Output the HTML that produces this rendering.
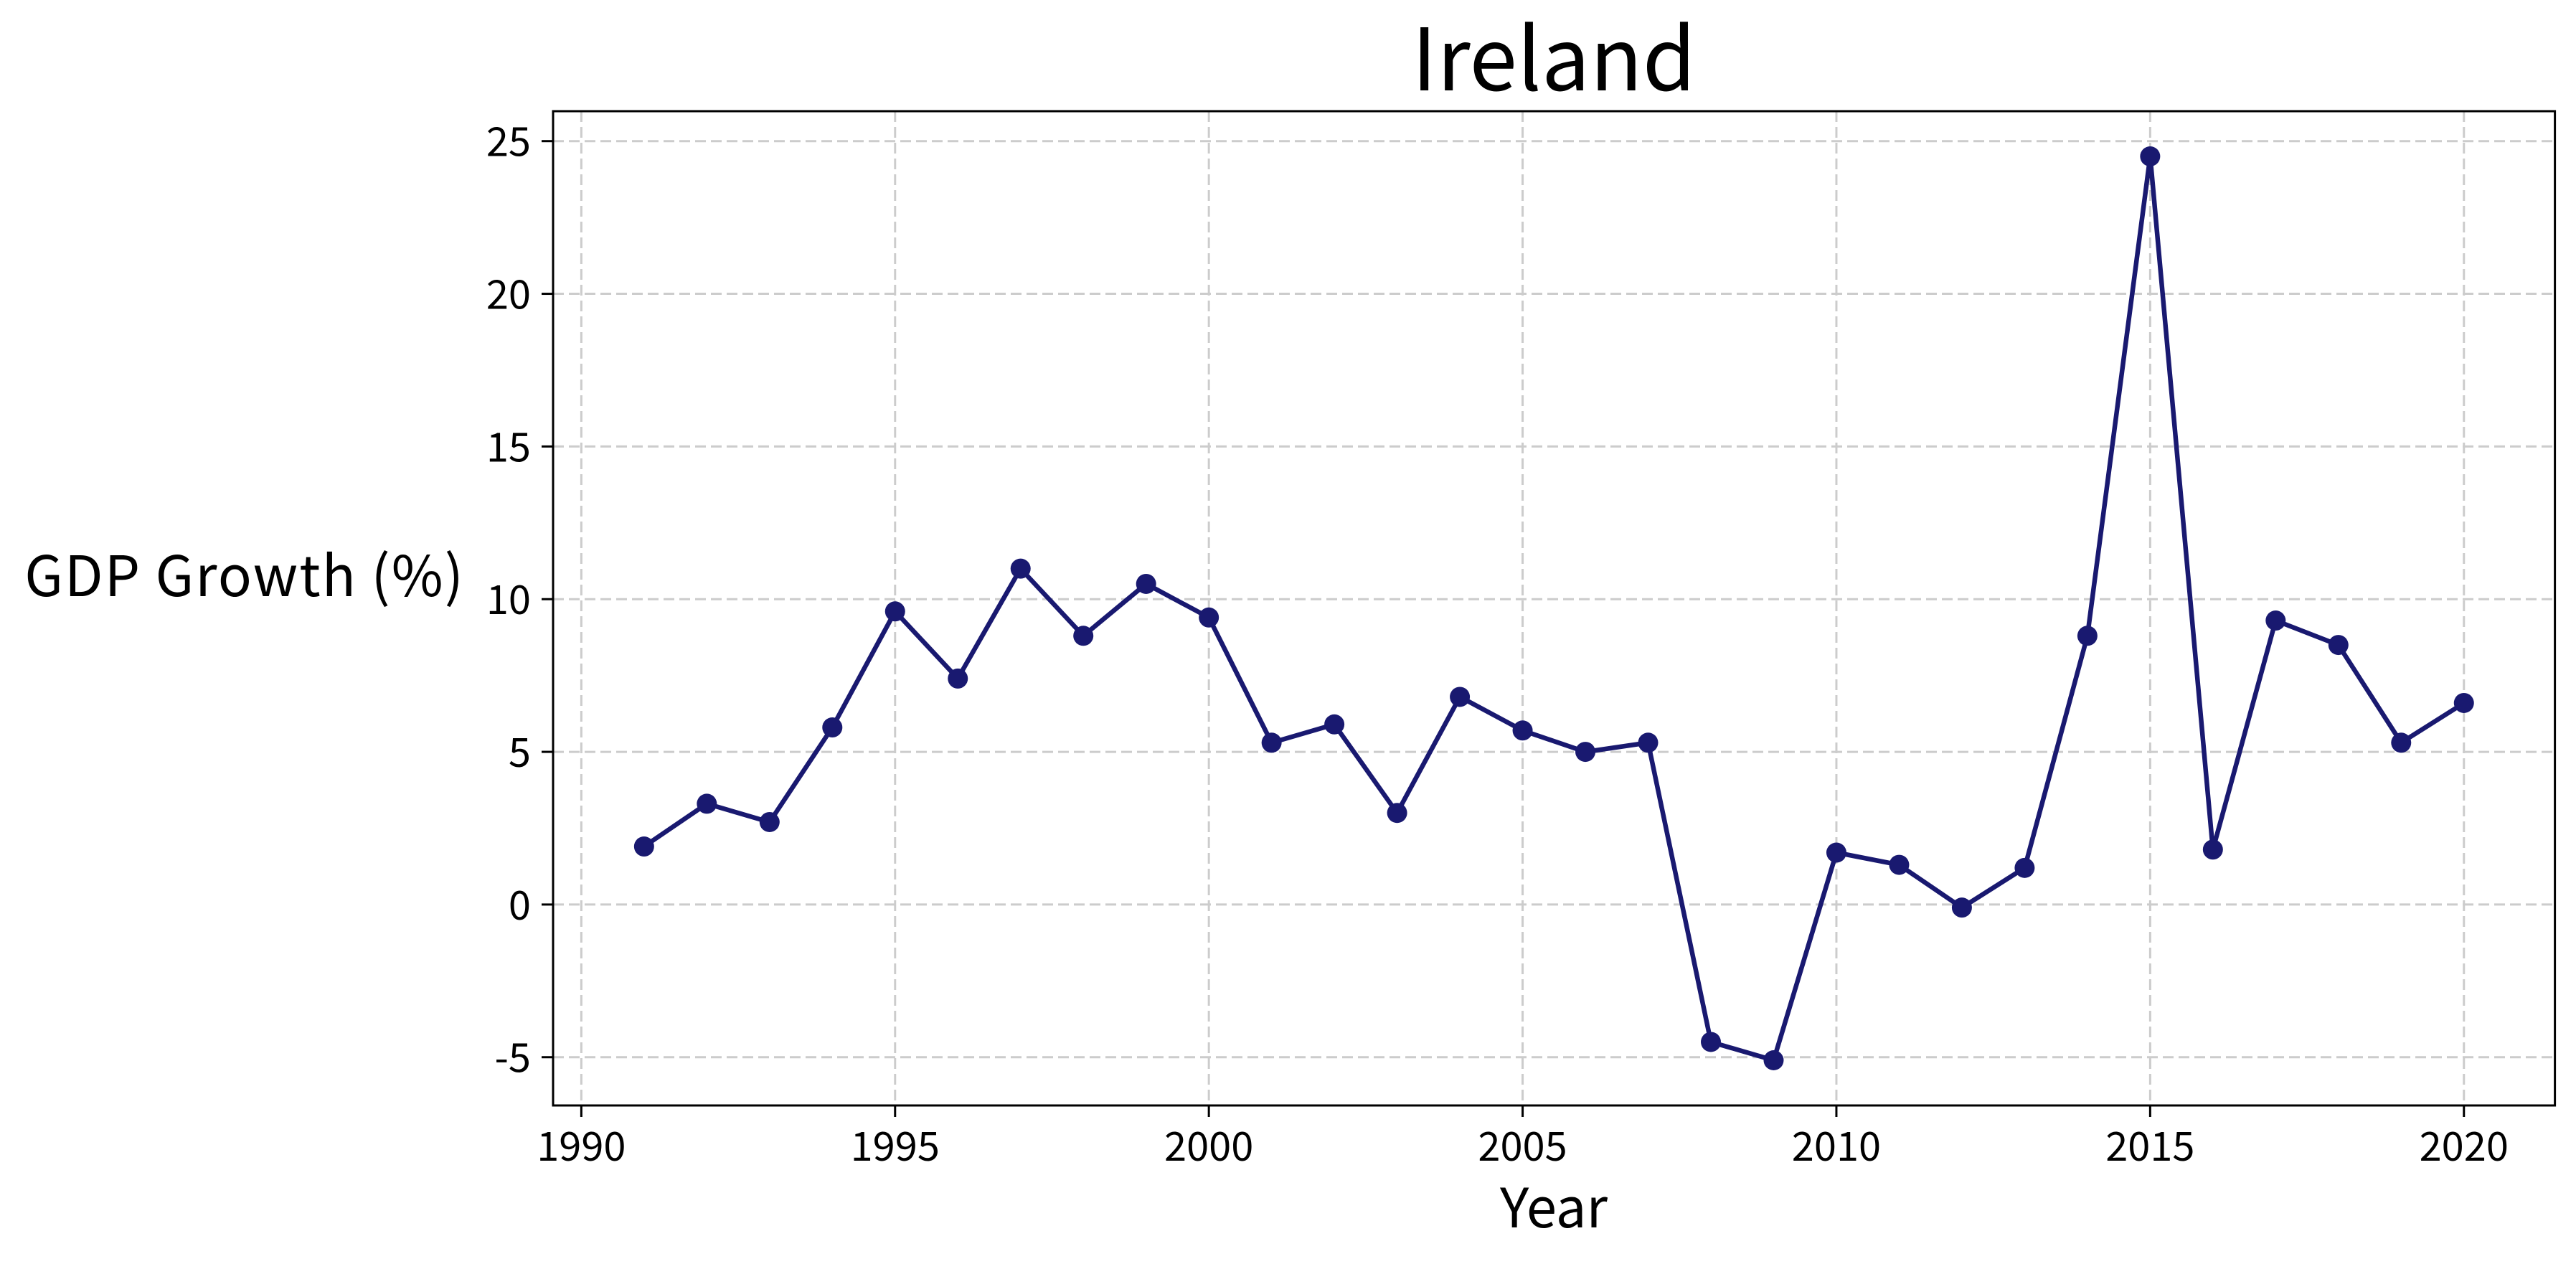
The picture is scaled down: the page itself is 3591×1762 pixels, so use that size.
<!DOCTYPE html>
<html><head><meta charset="utf-8"><style>
html,body{margin:0;padding:0;background:#fff;}
svg{display:block;}
text{font-family:"Noto Sans CJK KR","Liberation Sans",sans-serif;fill:#000;}
</style></head><body>
<svg id="chart" width="3591" height="1762" viewBox="0 0 3591 1762" xmlns="http://www.w3.org/2000/svg">
<rect x="0" y="0" width="3591" height="1762" fill="#fff"/>
<g id="grid"></g>
<g id="ticks"></g>
<g id="series"></g>
<rect x="771" y="155" width="2790.6" height="1386" fill="none" stroke="#000" stroke-width="3"/>
<text x="2166" y="126" font-size="120" text-anchor="middle">Ireland</text>
<text x="2166" y="1711" font-size="76" text-anchor="middle">Year</text>
<text x="648" y="831" font-size="78" text-anchor="end" letter-spacing="2">GDP Growth (%)</text>
</svg>
<script>
const years = [1991,1992,1993,1994,1995,1996,1997,1998,1999,2000,2001,2002,2003,2004,2005,2006,2007,2008,2009,2010,2011,2012,2013,2014,2015,2016,2017,2018,2019,2020];
const growth = [1.9,3.3,2.7,5.8,9.6,7.4,11.0,8.8,10.5,9.4,5.3,5.9,3.0,6.8,5.7,5.0,5.3,-4.5,-5.1,1.7,1.3,-0.1,1.2,8.8,24.5,1.8,9.3,8.5,5.3,6.6];
const xTicks = [1990,1995,2000,2005,2010,2015,2020];
const yTicks = [-5,0,5,10,15,20,25];

const NS = "http://www.w3.org/2000/svg";
const L = 771, R = 3561.6, T = 155, B = 1541;
const xMin = 1989.55, xMax = 2021.45, yMin = -6.58, yMax = 25.98;
function xs(v){ return L + (v - xMin) / (xMax - xMin) * (R - L); }
function ys(v){ return B - (v - yMin) / (yMax - yMin) * (B - T); }
function mk(tag, attrs, parent){
  const el = document.createElementNS(NS, tag);
  for (const k in attrs) el.setAttribute(k, attrs[k]);
  parent.appendChild(el);
  return el;
}
const grid = document.getElementById('grid');
const ticks = document.getElementById('ticks');
const series = document.getElementById('series');

xTicks.forEach(t => {
  const x = xs(t);
  const g = mk('line', {x1:x, x2:x, y1:T, y2:B, stroke:'#cccccc', 'stroke-width':3, 'stroke-dasharray':'15 7'}, grid);
  
  
  const tk = mk('line', {x1:x, x2:x, y1:B, y2:B+16, stroke:'#000', 'stroke-width':3}, ticks);
  
  
  const lb = mk('text', {x:x, y:1618, 'font-size':56, 'text-anchor':'middle'}, ticks);
  lb.textContent = t;
  
  
});
yTicks.forEach(t => {
  const y = ys(t);
  const g = mk('line', {x1:L, x2:R, y1:y, y2:y, stroke:'#cccccc', 'stroke-width':3, 'stroke-dasharray':'15 7'}, grid);
  
  
  const tk = mk('line', {x1:L-16, x2:L, y1:y, y2:y, stroke:'#000', 'stroke-width':3}, ticks);
  
  
  const lb = mk('text', {x:740, y:y+21, 'font-size':56, 'text-anchor':'end'}, ticks);
  lb.textContent = t;
  
  
});
const pts = years.map((yr, i) => xs(yr).toFixed(1) + ',' + ys(growth[i]).toFixed(1)).join(' ');
const line = mk('polyline', {points:pts, fill:'none', stroke:'#191970', 'stroke-width':6.5, 'stroke-linejoin':'round'}, series);


years.forEach((yr, i) => {
  const c = mk('circle', {cx:xs(yr), cy:ys(growth[i]), r:14, fill:'#191970'}, series);
  
  
});
</script>
</body></html>
